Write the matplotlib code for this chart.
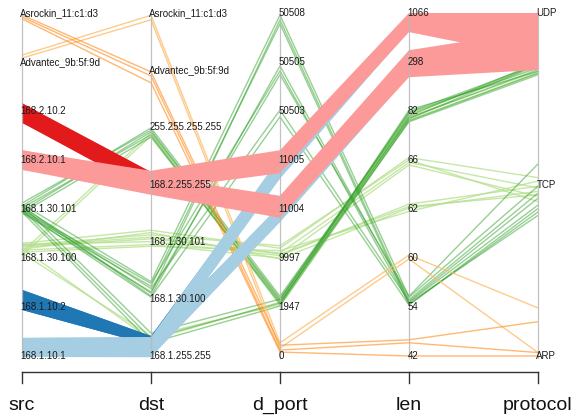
import numpy as np
import matplotlib
matplotlib.use('Agg')
import matplotlib.pyplot as plt

# ---------------- data ----------------
dims = ['src', 'dst', 'd_port', 'len', 'protocol']
src_levels = ['168.1.10.1', '168.1.10.2', '168.1.30.100', '168.1.30.101',
              '168.2.10.1', '168.2.10.2', 'Advantec_9b:5f:9d', 'Asrockin_11:c1:d3']
dst_levels = ['168.1.255.255', '168.1.30.100', '168.1.30.101', '168.2.255.255',
              '255.255.255.255', 'Advantec_9b:5f:9d', 'Asrockin_11:c1:d3']
dport_levels = ['0', '1947', '9997', '11004', '11005', '50503', '50505', '50508']
len_levels = ['42', '54', '60', '62', '66', '82', '298', '1066']
proto_levels = ['ARP', 'TCP', 'UDP']
axis_levels = [src_levels, dst_levels, dport_levels, len_levels, proto_levels]

# thin (few-record) flows, values in category-index units (with jitter), one row per record
green_lines = [  # src 168.1.30.101
    [3.12, 3.95, 1.14, 4.96, 1.68],
    [3.06, 3.99, 1.22, 4.90, 1.71],
    [3.02, 3.87, 1.06, 5.02, 1.66],
    [2.96, 3.92, 1.18, 4.84, 1.70],
    [2.92, 3.83, 1.10, 4.78, 1.64],
    [3.08, 0.40, 1.16, 4.98, 1.70],
    [3.00, 0.31, 1.08, 4.86, 1.67],
    [2.94, 0.23, 1.02, 4.80, 1.65],
    [3.10, 1.30, 6.96, 1.20, 0.99],
    [3.00, 1.10, 6.86, 1.10, 0.88],
    [2.94, 1.22, 6.78, 1.05, 0.84],
    [3.06, 1.05, 5.92, 1.15, 0.95],
    [2.98, 1.27, 5.82, 1.08, 0.82],
    [2.92, 1.12, 5.74, 1.22, 1.12],
    [3.04, 1.18, 5.02, 1.12, 0.92],
    [2.96, 1.03, 4.88, 1.04, 0.86],
]
lightgreen_lines = [  # src 168.1.30.100
    [2.30, 2.20, 2.20, 4.05, 1.04],
    [2.22, 2.05, 2.10, 3.95, 0.98],
    [2.16, 1.95, 2.00, 3.90, 0.93],
    [2.26, 2.12, 2.25, 4.00, 0.90],
    [2.28, 2.00, 2.05, 3.10, 0.99],
    [2.18, 2.16, 1.98, 3.02, 0.96],
    [2.12, 1.92, 2.15, 2.95, 1.02],
    [2.24, 2.08, 2.08, 3.05, 0.94],
    [2.05, 3.85, 1.04, 4.88, 1.66],
    [2.12, 3.90, 1.12, 4.93, 1.69],
    [2.20, 0.28, 1.10, 4.92, 1.70],
    [2.10, 0.35, 1.05, 4.82, 1.65],
]
orange_lines = [  # src Asrockin_11:c1:d3
    [6.96, 4.97, 0.22, 0.33, 0.20],
    [6.92, 4.90, 0.12, 0.27, 0.02],
    [6.88, 4.78, 0.08, 0.00, 0.00],
]
lightorange_lines = [  # src Advantec_9b:5f:9d
    [6.14, 5.96, 0.27, 2.06, 0.28],
    [6.08, 5.88, 0.16, 1.98, 0.02],
]

# heavy flows drawn as jitter envelopes (low / high per axis, category-index units)
darkblue_lo = [[0.94, 0.19, 3.65, 6.65, 1.76], [0.94, 0.19, 2.78, 5.75, 1.70]]
darkblue_hi = [[1.35, 0.35, 4.00, 6.95, 1.95], [1.35, 0.35, 3.04, 6.18, 1.88]]
red_lo = [[4.76, 2.95, 3.80, 6.65, 1.76], [4.76, 2.86, 2.88, 5.75, 1.70]]
red_hi = [[5.16, 3.22, 4.15, 6.95, 1.95], [5.16, 3.12, 3.20, 6.18, 1.88]]
lightblue_lo = [[-0.02, -0.02, 3.62, 6.64, 1.75], [-0.02, -0.02, 2.73, 5.72, 1.69]]
lightblue_hi = [[0.37, 0.33, 4.06, 6.97, 1.97], [0.37, 0.33, 3.08, 6.20, 1.89]]
pink_lo = [[3.80, 2.90, 3.73, 6.61, 1.738], [3.80, 2.82, 2.82, 5.69, 1.668]]
pink_hi = [[4.20, 3.24, 4.20, 7.00, 2.000], [4.20, 3.15, 3.27, 6.24, 1.901]]

# ---------------- drawing ----------------
plt.rcParams['font.family'] = ['Liberation Sans', 'DejaVu Sans']
W, H = 574, 419
fig = plt.figure(figsize=(W / 100, H / 100), dpi=100)
ax = fig.add_axes([0, 0, 1, 1])
ax.set_xlim(-22 / 129, (W - 22) / 129)
ax.set_ylim((356 - H) / 343, 356 / 343)
ax.axis('off')

ncat = np.array([len(l) - 1 for l in axis_levels], dtype=float)
xs = np.arange(len(dims))


def norm(vals):
    return np.asarray(vals, dtype=float) / ncat


for lines, col, a in [(lightgreen_lines, '#b2df8a', 0.75), (green_lines, '#33a02c', 0.5),
                      (lightorange_lines, '#fdbf6f', 0.8), (orange_lines, '#ff7f00', 0.55)]:
    for row in lines:
        ax.plot(xs, norm(row), color=col, lw=1.0, alpha=a, solid_capstyle='butt', zorder=2)

for los, his, col in [(darkblue_lo, darkblue_hi, '#1f78b4'), (red_lo, red_hi, '#e31a1c'),
                      (lightblue_lo, lightblue_hi, '#a6cee3'), (pink_lo, pink_hi, '#fb9a99')]:
    for lo, hi in zip(los, his):
        lo_n, hi_n = norm(lo), norm(hi)
        px = np.concatenate([xs, xs[::-1]])
        py = np.concatenate([lo_n, hi_n[::-1]])
        ax.fill(px, py, color=col, lw=0, zorder=3)

# vertical axis lines
for x in xs:
    ax.plot([x, x], [-0.005, 1.0], color='#b8b8b8', lw=0.9, alpha=0.85, zorder=4)

# category labels
for x, levels in zip(xs, axis_levels):
    n = len(levels) - 1
    for k, lab in enumerate(levels):
        ax.text(x - 0.012, k / n, lab, ha='left', va='center', fontsize=7,
                color='#1a1a1a', zorder=5)

# bottom bracket axis
yb = (356 - 372) / 343
yt = (356 - 383) / 343
ax.plot([xs[0], xs[-1]], [yb, yb], color='#333333', lw=1.0, zorder=5)
for x, d in zip(xs, dims):
    ax.plot([x, x], [yb, yt], color='#333333', lw=1.0, zorder=5)
    ax.text(x, (356 - 405) / 343, d, ha='center', va='center', fontsize=14, color='#111111')

fig.savefig('out.png', dpi=100)
